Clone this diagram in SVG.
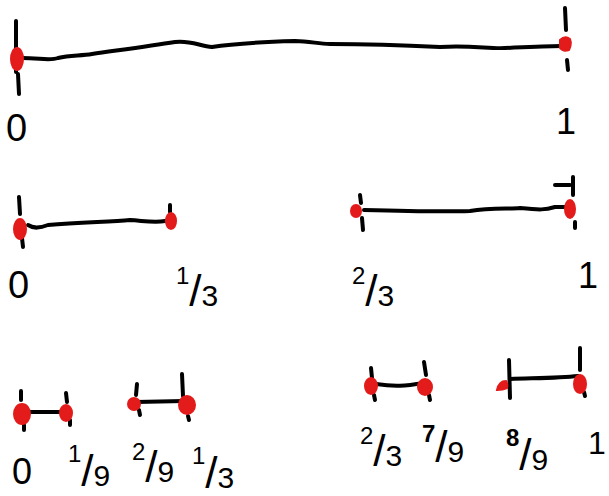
<svg xmlns="http://www.w3.org/2000/svg" width="609" height="496" viewBox="0 0 609 496">
<style>
.ln{fill:none;stroke:#000;stroke-width:4;stroke-linecap:round;stroke-linejoin:round}
.dot{fill:#e31b1b;stroke:#e31b1b;stroke-width:2}
.lbl{font-family:"Liberation Sans",Arial,sans-serif;fill:#000}
.nu{font-size:24px}
.sl{font-size:44px}
.de{font-size:30px}
</style>
<rect width="609" height="496" fill="#fff"/>
<g id="connectors">
  <path class="ln" d="M22,58 C40,58 50,61 58,58 C70,55 80,56 92,54 C120,50 150,46 175,42 C190,40 200,46 212,47 C230,44 260,42 295,41 C310,41 318,44 330,44 C380,44 420,46 440,47 C470,45 490,49 505,48 C530,47 550,46 562,46"/>
  <path class="ln" d="M28,225 C34,229 40,228 48,225 C80,222 110,222 130,220 C145,221 155,223 165,221"/>
  <path class="ln" d="M364,210 C400,211 440,212 470,211 C490,208 510,209 520,208 C540,210 545,210 555,207 L565,207"/>
  <path class="ln" d="M24,412 L64,412"/>
  <path class="ln" d="M136,402 L184,401"/>
  <path class="ln" d="M376,384 C395,387 405,386 424,383"/>
  <path class="ln" d="M510,379 C540,378 560,378 578,376"/>
</g>
<g id="seg-0-1">
  <path class="ln" d="M16,21 L16,72 M18,74 L19,94"/>
  <ellipse class="dot" cx="17" cy="59" rx="6" ry="11"/>
  <path class="ln" d="M565,8 L566,30 M567,60 L568,70"/>
  <path class="dot" d="M560,40 Q565,35 570,39 Q572,44 569,50 Q563,52 560,48 Z"/>
  <text class="lbl" x="6" y="141" font-size="38">0</text>
  <text class="lbl" x="556" y="134" font-size="36">1</text>
</g>
<g id="seg-0-1_3">
  <path class="ln" d="M19,197 L20,214 M22,238 L23,247"/>
  <ellipse class="dot" cx="20" cy="229" rx="6" ry="10"/>
  <path class="ln" d="M170,205 L170,212"/>
  <ellipse class="dot" cx="171" cy="221" rx="5" ry="8"/>
  <text class="lbl" x="8" y="298" font-size="38">0</text>
  <text class="lbl" x="176" y="306"><tspan class="nu" dy="-22">1</tspan><tspan class="sl" dy="22">/</tspan><tspan class="de">3</tspan></text>
</g>
<g id="seg-2_3-1">
  <path class="ln" d="M360,195 L361,203 M362,218 L363,230"/>
  <ellipse class="dot" cx="356" cy="211" rx="5" ry="6"/>
  <path class="ln" d="M573,177 L573,195 M575,222 L575,228 M555,185 L570,185"/>
  <ellipse class="dot" cx="570" cy="209" rx="5" ry="9"/>
  <text class="lbl" x="352" y="306"><tspan class="nu" dy="-22">2</tspan><tspan class="sl" dy="22">/</tspan><tspan class="de">3</tspan></text>
  <text class="lbl" x="578" y="288" font-size="36">1</text>
</g>
<g id="seg-0-1_9">
  <path class="ln" d="M21,391 L21,400 M24,425 L24,430"/>
  <ellipse class="dot" cx="22" cy="414" rx="8" ry="10"/>
  <path class="ln" d="M66,393 L67,402 M70,420 L70,425"/>
  <ellipse class="dot" cx="66" cy="413" rx="6" ry="8"/>
  <text class="lbl" x="12" y="484" font-size="36">0</text>
  <text class="lbl" x="68" y="486"><tspan class="nu" dy="-24">1</tspan><tspan class="sl" dy="24">/</tspan><tspan class="de">9</tspan></text>
</g>
<g id="seg-2_9-1_3">
  <path class="ln" d="M137,384 L136,395 M139,410 L140,415"/>
  <ellipse class="dot" cx="134" cy="404" rx="6" ry="6"/>
  <path class="ln" d="M182,374 L183,396 M188,416 L189,420"/>
  <ellipse class="dot" cx="187" cy="405" rx="8" ry="9"/>
  <text class="lbl" x="132" y="482"><tspan class="nu" dy="-22">2</tspan><tspan class="sl" dy="22">/</tspan><tspan class="de">9</tspan></text>
  <text class="lbl" x="192" y="488"><tspan class="nu" dy="-24">1</tspan><tspan class="sl" dy="24">/</tspan><tspan class="de">3</tspan></text>
</g>
<g id="seg-2_3-7_9">
  <path class="ln" d="M371,368 L372,378 M374,395 L375,400"/>
  <ellipse class="dot" cx="371" cy="386" rx="6" ry="8"/>
  <path class="ln" d="M424,362 L426,375 M429,395 L430,400"/>
  <ellipse class="dot" cx="425" cy="387" rx="7" ry="8"/>
  <text class="lbl" x="360" y="466"><tspan class="nu" dy="-22">2</tspan><tspan class="sl" dy="22">/</tspan><tspan class="de">3</tspan></text>
  <text class="lbl" x="422" y="462"><tspan class="nu" font-weight="bold" dy="-20">7</tspan><tspan class="sl" dy="20">/</tspan><tspan class="de">9</tspan></text>
</g>
<g id="seg-8_9-1">
  <path class="ln" d="M509,360 L510,398"/>
  <path class="dot" d="M497,390 Q499,381 506,381 Q508,384 507,388 Q503,390 497,390 Z"/>
  <path class="ln" d="M580,348 L580,370 M584,392 L585,396"/>
  <ellipse class="dot" cx="580" cy="384" rx="6" ry="9"/>
  <text class="lbl" x="506" y="470"><tspan class="nu" font-weight="bold" dy="-24">8</tspan><tspan class="sl" dy="24">/</tspan><tspan class="de">9</tspan></text>
  <text class="lbl" x="588" y="454" font-size="32">1</text>
</g>
</svg>
